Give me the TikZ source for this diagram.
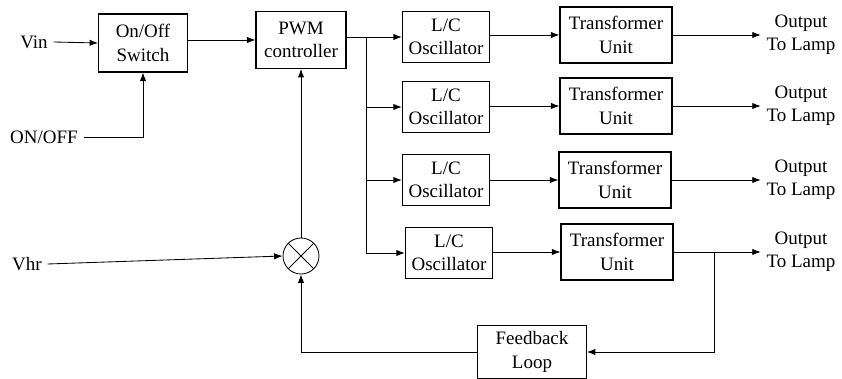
\documentclass[tikz,border=0pt]{standalone}
\usepackage{fontspec}
\setmainfont{Liberation Serif}
\usetikzlibrary{arrows.meta}
\tikzset{
	blk/.style={draw, line width=0.8pt, align=center, inner sep=1pt,
		font=\fontsize{13.5}{16.5}\selectfont},
	lbl/.style={align=center, inner sep=4pt, font=\fontsize{13.5}{16.5}\selectfont},
	wire/.style={line width=0.6pt},
	arr/.style={wire, -{Latex[length=6pt,width=4.5pt]}}
}
\begin{document}
\begin{tikzpicture}
	\begin{scope}[x=0.025cm, y=-0.025cm]
	\useasboundingbox (0,0) rectangle (842,379);
	% inputs
	\node[lbl] (vin) at (34,42) {Vin};
	\node[lbl] (onoff) at (44,137) {ON/OFF};
	\node[lbl] (vhr) at (27,264) {Vhr};
	
	\node[blk, minimum width=2.22cm, minimum height=1.45cm] (sw) at (143,43) {On/Off\\Switch};
	\node[blk, minimum width=2.25cm, minimum height=1.42cm] (pwm) at (301,40) {PWM\\controller};
	\node[draw, line width=0.6pt, circle, minimum size=0.9cm,
		path picture={\draw[line width=0.6pt] (path picture bounding box.north west) -- (path picture bounding box.south east)
			(path picture bounding box.north east) -- (path picture bounding box.south west);}] (sum) at (301,256) {};
	
	% oscillators, transformers, outputs
	\node[blk, minimum width=2.18cm, minimum height=1.28cm] (osc1) at (446,37) {L/C\\Oscillator};
	\node[blk, minimum width=2.18cm, minimum height=1.28cm] (osc2) at (446,107) {L/C\\Oscillator};
	\node[blk, minimum width=2.18cm, minimum height=1.28cm] (osc3) at (446,180) {L/C\\Oscillator};
	\node[blk, minimum width=2.18cm, minimum height=1.28cm] (osc4) at (449,253) {L/C\\Oscillator};
	
	\node[blk, minimum width=2.8cm, minimum height=1.4cm] (tr1) at (616,35) {Transformer\\Unit};
	\node[blk, minimum width=2.8cm, minimum height=1.4cm] (tr2) at (616,106) {Transformer\\Unit};
	\node[blk, minimum width=2.8cm, minimum height=1.4cm] (tr3) at (615,180) {Transformer\\Unit};
	\node[blk, minimum width=2.8cm, minimum height=1.4cm] (tr4) at (617,252) {Transformer\\Unit};
	
	\node[lbl] (out1) at (801,35) {Output\\To Lamp};
	\node[lbl] (out2) at (801,106) {Output\\To Lamp};
	\node[lbl] (out3) at (801,180) {Output\\To Lamp};
	\node[lbl] (out4) at (801,252) {Output\\To Lamp};
	
	\node[blk, minimum width=2.72cm, minimum height=1.32cm] (fb) at (532,352) {Feedback\\Loop};
	
	\coordinate (split) at (366,37);
	\coordinate (tap) at (714,252);
	
	\draw[arr] (vin.east) -- (sw.west);
	\draw[arr] (onoff.east) -| (sw.south);
	\draw[arr] (sw.east |- pwm.west) -- (pwm.west);
	\draw[arr] (pwm.east |- osc1.west) -- (osc1.west);
	\draw[wire] (split) -- (split |- osc4.west);
	\foreach \i in {2,3,4}
		\draw[arr] (split |- osc\i.west) -- (osc\i.west);
	\foreach \i in {1,2,3,4} {
		\draw[arr] (osc\i.east |- tr\i.west) -- (tr\i.west);
		\draw[arr] (tr\i.east) -- (tr\i.east -| out\i.west);
	}
	\draw[arr] (tap) |- (fb.east);
	\draw[arr] (fb.west) -| (sum.south);
	\draw[arr] (vhr.east) -- (sum.west);
	\draw[arr] (sum.north) -- (pwm.south);
	\end{scope}
\end{tikzpicture}
\end{document}
